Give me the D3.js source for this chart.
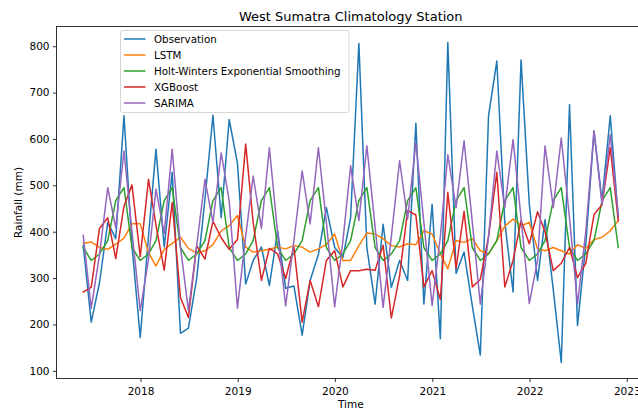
<!DOCTYPE html>
<html>
<head>
<meta charset="utf-8">
<script src="https://cdn.jsdelivr.net/npm/d3@7"></script>
<style>
  html, body { margin: 0; padding: 0; background: #fff; }
  svg { display: block; font-family: "DejaVu Sans", sans-serif; }
</style>
</head>
<body>
<svg id="chart" width="638" height="412"></svg>
<script>
// monthly series, month-end dates
const months = [
  "2017-05","2017-06","2017-07","2017-08","2017-09","2017-10","2017-11","2017-12",
  "2018-01","2018-02","2018-03","2018-04","2018-05","2018-06","2018-07","2018-08","2018-09","2018-10","2018-11","2018-12",
  "2019-01","2019-02","2019-03","2019-04","2019-05","2019-06","2019-07","2019-08","2019-09","2019-10","2019-11","2019-12",
  "2020-01","2020-02","2020-03","2020-04","2020-05","2020-06","2020-07","2020-08","2020-09","2020-10","2020-11","2020-12",
  "2021-01","2021-02","2021-03","2021-04","2021-05","2021-06","2021-07","2021-08","2021-09","2021-10","2021-11","2021-12",
  "2022-01","2022-02","2022-03","2022-04","2022-05","2022-06","2022-07","2022-08","2022-09","2022-10","2022-11"
];

const observation = [
  370, 205, 290, 420, 385, 650, 370, 172,
  390, 578, 367, 528, 181, 192, 300, 470, 651, 430, 642, 548,
  287, 338, 367, 284, 402, 278, 283, 177, 295, 351, 452, 366,
  344, 430, 806, 366, 244, 416, 280, 338, 295, 634, 244, 459,
  169, 808, 310, 356, 240, 134, 650, 768, 420, 270, 770, 460,
  295, 426, 275, 118, 674, 198, 372, 617, 467, 650, 430
];

const lstm = [
  375, 378, 366, 362, 373, 386, 417, 417,
  355, 326, 362, 375, 388, 364, 354, 359, 372, 402, 413, 435,
  367, 356, 359, 362, 367, 363, 370, 367, 356, 363, 372, 395,
  338, 338, 370, 397, 395, 385, 370, 367, 374, 372, 402, 395,
  352, 320, 381, 377, 385, 359, 352, 381, 412, 427, 413, 420,
  363, 359, 366, 359, 352, 372, 364, 383, 388, 402, 424
];

const holtWinters = [
  366, 338, 352, 381, 467, 495, 366, 338,
  352, 381, 467, 495, 366, 338, 352, 381, 467, 495, 366, 338,
  352, 381, 467, 495, 366, 338, 352, 381, 467, 495, 366, 338,
  352, 381, 467, 495, 366, 338, 352, 381, 467, 495, 366, 338,
  352, 381, 467, 495, 366, 338, 352, 381, 467, 495, 366, 338,
  352, 381, 467, 495, 366, 338, 352, 381, 467, 495, 366
];

const xgboost = [
  270, 280, 407, 430, 342, 455, 501, 346,
  513, 415, 317, 463, 258, 215, 370, 341, 423, 387, 362, 383,
  589, 420, 295, 364, 352, 299, 367, 205, 295, 238, 338, 359,
  281, 316, 316, 319, 317, 371, 214, 305, 446, 436, 281, 316,
  254, 485, 321, 444, 281, 297, 390, 528, 281, 338, 424, 374,
  443, 400, 316, 332, 366, 301, 332, 437, 458, 581, 424
];

const sarima = [
  392, 235, 350, 495, 409, 574, 400, 230,
  340, 492, 396, 578, 367, 230, 370, 513, 420, 570, 467, 235,
  390, 520, 407, 581, 396, 240, 380, 531, 417, 581, 420, 238,
  380, 542, 424, 585, 410, 237, 390, 553, 427, 592, 420, 241,
  390, 566, 452, 596, 420, 244, 390, 574, 452, 599, 430, 245,
  338, 585, 452, 602, 430, 244, 400, 617, 459, 609, 437
];

const seriesNames = ["Observation", "LSTM", "Holt-Winters Exponential Smoothing", "XGBoost", "SARIMA"];
const seriesValues = [observation, lstm, holtWinters, xgboost, sarima];
const seriesColors = ["#1f77b4", "#ff7f0e", "#2ca02c", "#d62728", "#9467bd"];
const yTicks = [100, 200, 300, 400, 500, 600, 700, 800];

(() => {
  const svg = d3.select("#chart");

  // axes box (right edge sits past the picture, like the original crop)
  const left = 56.5, right = 645, top = 26.5, bottom = 378.5;

  const parseMonth = d3.timeParse("%Y-%m");
  const dates = months.map(m => d3.timeDay.offset(d3.timeMonth.offset(parseMonth(m), 1), -1));

  // matplotlib-like 5% margins
  const [d0, d1] = d3.extent(dates);
  const span = d1 - d0;
  const x = d3.scaleTime()
    .domain([new Date(+d0 - span * 0.05), new Date(+d1 + span * 0.05)])
    .range([left, right]);

  const allVals = seriesValues.flat();
  const vMin = d3.min(allVals), vMax = d3.max(allVals);
  const vPad = (vMax - vMin) * 0.05;
  const y = d3.scaleLinear()
    .domain([vMin - vPad, vMax + vPad])
    .range([bottom, top]);

  svg.append("rect")
    .attr("width", 638).attr("height", 412)
    .attr("fill", "#fff");

  // lines
  const line = d3.line()
    .x((d, i) => x(dates[i]))
    .y(d => y(d));

  const linesG = svg.append("g");
  seriesValues.forEach((vals, k) => {
    linesG.append("path")
      .datum(vals)
      .attr("d", line)
      .attr("fill", "none")
      .attr("stroke", seriesColors[k])
      .attr("stroke-width", 1.5)
      .attr("stroke-linejoin", "round")
      .attr("stroke-linecap", "square");
  });

  // x axis
  const xAxis = svg.append("g")
    .attr("transform", `translate(0,${bottom})`)
    .call(d3.axisBottom(x)
      .ticks(d3.timeYear.every(1))
      .tickFormat(d3.timeFormat("%Y"))
      .tickSize(3.5)
      .tickPadding(3.5)
      .tickSizeOuter(0));
  xAxis.select(".domain").remove();
  xAxis.selectAll(".tick line").attr("stroke", "#000").attr("stroke-width", 0.8);
  xAxis.selectAll(".tick text")
    .attr("fill", "#000")
    .style("font-size", "10.5px")
    .style("font-family", "DejaVu Sans")
    .attr("dy", "0.93em");

  // y axis
  const yAxis = svg.append("g")
    .attr("transform", `translate(${left},0)`)
    .call(d3.axisLeft(y)
      .tickValues(yTicks)
      .tickSize(3.5)
      .tickPadding(3.5)
      .tickSizeOuter(0));
  yAxis.select(".domain").remove();
  yAxis.selectAll(".tick line").attr("stroke", "#000").attr("stroke-width", 0.8);
  yAxis.selectAll(".tick text")
    .attr("fill", "#000")
    .style("font-size", "10.5px")
    .style("font-family", "DejaVu Sans");

  // spines
  svg.append("rect")
    .attr("x", left).attr("y", top)
    .attr("width", right - left).attr("height", bottom - top)
    .attr("fill", "none")
    .attr("stroke", "#000")
    .attr("stroke-width", 0.8);

  // labels
  svg.append("text")
    .attr("x", (left + right) / 2)
    .attr("y", 21)
    .attr("text-anchor", "middle")
    .style("font-size", "13px")
    .text("West Sumatra Climatology Station");

  svg.append("text")
    .attr("x", (left + right) / 2)
    .attr("y", 408)
    .attr("text-anchor", "middle")
    .style("font-size", "10.5px")
    .text("Time");

  svg.append("text")
    .attr("transform", `translate(22,${(top + bottom) / 2}) rotate(-90)`)
    .attr("text-anchor", "middle")
    .style("font-size", "10.5px")
    .text("Rainfall (mm)");

  // legend
  const lg = svg.append("g").attr("transform", "translate(120.5,30.5)");
  lg.append("rect")
    .attr("width", 228.5).attr("height", 82)
    .attr("rx", 2.5)
    .attr("fill", "#fff").attr("fill-opacity", 0.8)
    .attr("stroke", "#cccccc").attr("stroke-width", 0.8);

  seriesNames.forEach((name, k) => {
    const cy = 8.5 + k * 16;
    lg.append("line")
      .attr("x1", 3.5).attr("x2", 25)
      .attr("y1", cy).attr("y2", cy)
      .attr("stroke", seriesColors[k])
      .attr("stroke-width", 1.5);
    lg.append("text")
      .attr("x", 33.5).attr("y", cy)
      .attr("dy", "0.36em")
      .style("font-size", "10.3px")
      .text(name);
  });
})();
</script>
</body>
</html>
